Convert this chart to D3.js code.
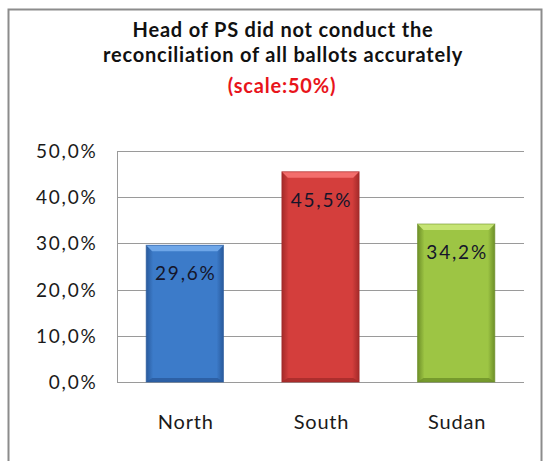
<!DOCTYPE html>
<html><head><meta charset="utf-8">
<script src="https://cdn.jsdelivr.net/npm/d3@7"></script>
<style>body{margin:0;background:#fff}svg{display:block}text{font-family:Lato,"Open Sans",sans-serif}</style>
</head><body>
<script>
const categories = ["North", "South", "Sudan"];
const values = [29.6, 45.5, 34.2];
const valueLabels = ["29,6%", "45,5%", "34,2%"];
const yTicks = [0, 10, 20, 30, 40, 50];
const yTickLabels = ["0,0%", "10,0%", "20,0%", "30,0%", "40,0%", "50,0%"];
const titleLines = ["Head of PS did not conduct the", "reconciliation of all ballots accurately"];
const subtitle = "(scale:50%)";
const colors = [
  {base:"#3c7bc9", light:"#6ea6e8", dark:"#295a9c"},
  {base:"#d43e3c", light:"#f36e6c", dark:"#a32a29"},
  {base:"#9dc544", light:"#c6e474", dark:"#6d8f28"}
];

const W = 543, H = 461;
const svg = d3.select("body").append("svg").attr("width", W).attr("height", H);

svg.append("rect").attr("x", 8.5).attr("y", 9.5).attr("width", 533).attr("height", 470)
  .attr("fill", "#fff").attr("stroke", "#8c8c8c").attr("stroke-width", 2);

const x = d3.scaleBand().domain(categories).range([117, 524]).paddingInner(0.43).paddingOuter(0.215);
const y = d3.scaleLinear().domain([0, 50]).range([382, 151]);

// gridlines
svg.append("g").selectAll("line").data(yTicks).join("line")
  .attr("x1", 117).attr("x2", 524)
  .attr("y1", d => Math.round(y(d)) + 0.5).attr("y2", d => Math.round(y(d)) + 0.5)
  .attr("stroke", "#9a9a9a").attr("stroke-width", 1);
svg.append("line").attr("x1", 117.5).attr("x2", 117.5).attr("y1", y(50)).attr("y2", y(0))
  .attr("stroke", "#9a9a9a");

// y labels
svg.append("g").selectAll("text").data(yTicks).join("text")
  .attr("x", 97.5).attr("y", d => y(d) + 7).attr("text-anchor", "end")
  .attr("font-size", 19).attr("letter-spacing", 1.8).attr("fill", "#1a1a1a")
  .text((d, i) => yTickLabels[i]);

// bars with bevel
const defs = svg.append("defs");
colors.forEach((c, i) => {
  const g = defs.append("linearGradient").attr("id", "g" + i).attr("x1", 0).attr("x2", 1).attr("y1", 0).attr("y2", 0);
  g.append("stop").attr("offset", "0%").attr("stop-color", c.dark);
  g.append("stop").attr("offset", "9%").attr("stop-color", c.base);
  g.append("stop").attr("offset", "91%").attr("stop-color", c.base);
  g.append("stop").attr("offset", "100%").attr("stop-color", c.dark);
});
const bars = svg.append("g").selectAll("g").data(categories).join("g");
bars.append("rect")
  .attr("x", d => x(d)).attr("width", x.bandwidth())
  .attr("y", (d, i) => y(values[i])).attr("height", (d, i) => y(0) - y(values[i]))
  .attr("fill", (d, i) => `url(#g${i})`);
const bev = 6;
bars.append("path")
  .attr("d", (d, i) => {
    const x0 = x(d), x1 = x(d) + x.bandwidth(), t = y(values[i]);
    return `M${x0},${t}L${x1},${t}L${x1 - bev},${t + bev}L${x0 + bev},${t + bev}Z`;
  })
  .attr("fill", (d, i) => colors[i].light);
bars.append("path")
  .attr("d", (d, i) => {
    const x0 = x(d), x1 = x(d) + x.bandwidth(), b = y(0);
    return `M${x0},${b}L${x1},${b}L${x1 - bev},${b - 4}L${x0 + bev},${b - 4}Z`;
  })
  .attr("fill", (d, i) => colors[i].dark).attr("opacity", 0.8);
bars.append("rect")
  .attr("x", d => x(d)).attr("width", x.bandwidth())
  .attr("y", (d, i) => y(values[i])).attr("height", (d, i) => y(0) - y(values[i]))
  .attr("fill", "none").attr("stroke", (d, i) => colors[i].dark).attr("stroke-opacity", 0.6);

// value labels
svg.append("g").selectAll("text").data(categories).join("text")
  .attr("x", d => x(d) + x.bandwidth() / 2 + 1)
  .attr("y", (d, i) => y(values[i]) + 35)
  .attr("text-anchor", "middle").attr("font-size", 19).attr("letter-spacing", 1.8).attr("fill", "#15152a")
  .text((d, i) => valueLabels[i]);

// category labels
svg.append("g").selectAll("text").data(categories).join("text")
  .attr("x", d => x(d) + x.bandwidth() / 2 + 1).attr("y", 429)
  .attr("text-anchor", "middle").attr("font-size", 20).attr("letter-spacing", 0.8).attr("fill", "#1a1a1a")
  .text(d => d);

// title
svg.append("g").selectAll("text").data(titleLines).join("text")
  .attr("x", 283).attr("y", (d, i) => 37 + i * 25)
  .attr("text-anchor", "middle").attr("font-size", 20).attr("letter-spacing", 0.8)
  .attr("font-weight", "bold").attr("fill", "#111")
  .text(d => d);
svg.append("text").attr("x", 282).attr("y", 93).attr("text-anchor", "middle")
  .attr("font-size", 20).attr("letter-spacing", 0.8)
  .attr("font-weight", "bold").attr("fill", "#e8141b").text(subtitle);
</script>
</body></html>
